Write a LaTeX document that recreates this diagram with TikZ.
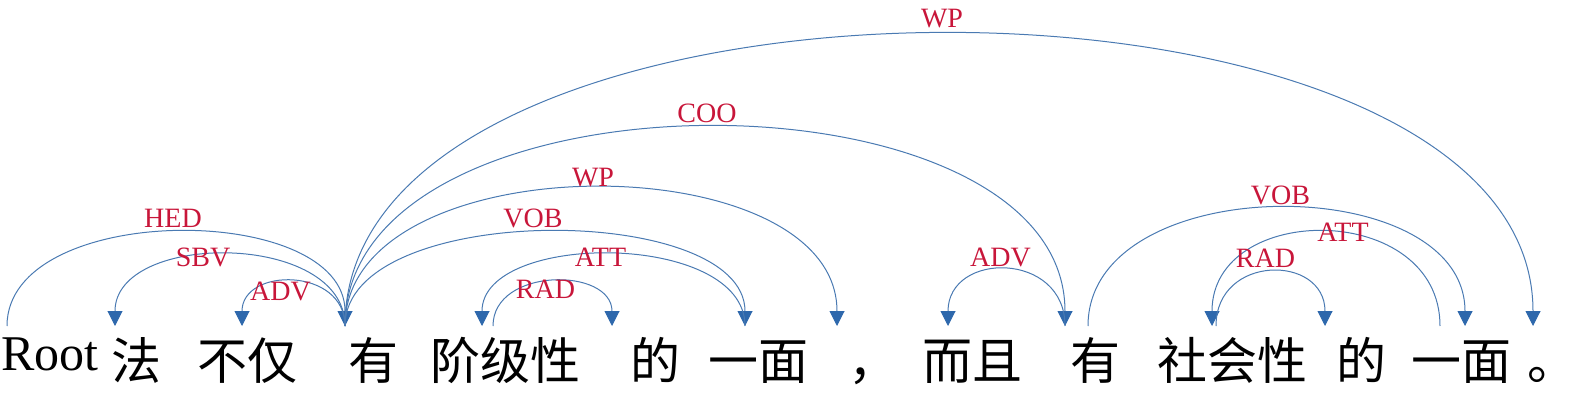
\documentclass[tikz,border=0pt]{standalone}
\usepackage{fontspec}
\setmainfont{Liberation Serif}
\newfontfamily\cjk{Noto Sans CJK SC}
\usetikzlibrary{arrows.meta}
\definecolor{arcblue}{RGB}{74,122,178}
\definecolor{tipblue}{RGB}{46,104,172}
\definecolor{relred}{RGB}{200,22,58}
\newcommand{\tokfont}{\fontsize{50}{56}\selectfont}
\newcommand{\relfont}{\fontsize{28}{32}\selectfont}
\tikzset{
  depgraph/.style={x=1pt, y=1pt},
  % a word of the sentence, set on its baseline
  token/.style={font=\tokfont\cjk, inner sep=0pt, anchor=base},
  % a dependency arc, from the head down onto the dependent
  deparrow/.style={draw=arcblue, line width=1pt,
                   -{Triangle[length=15pt,width=15pt,color=tipblue]}},
  % the relation name that sits on its arc
  rel/.style={font=\relfont, text=relred, inner sep=0pt},
}
\newcommand{\tok}[4]{\node[token] (#1) at (#2,#3) {#4};}
\newcommand{\port}[2]{\coordinate (#1) at (#2,66);}
% head, dependent, control height, relation, label shift x, label shift y
\newcommand{\deparc}[6]{%
  \draw[deparrow] (#1) .. controls +(0,#3) and +(0,#3) ..
    node[rel, xshift=#5pt, yshift=#6pt] (l-#2) {#4} (#2);%
}

\begin{document}
\begin{tikzpicture}[depgraph]
  \useasboundingbox (0,0) rectangle (1577,392);
  % ---------------------------------------------------------------------------
  % the sentence
  % ---------------------------------------------------------------------------
  \node[token, font=\tokfont] (root) at (50,22) {Root};
  \tok{fa}{136}{12.5}{法}
  \tok{bujin}{247.5}{12.5}{不仅}
  \tok{you1}{373.5}{12.5}{有}
  \tok{jieji}{505}{12.5}{阶级性}
  \tok{de1}{655}{12.5}{的}
  \tok{yimian1}{758.5}{12.5}{一面}
  \node[token, anchor=base west] (dou) at (848,12.5) {，};
  \tok{erqie}{972.5}{12.5}{而且}
  \tok{you2}{1095}{12.5}{有}
  \tok{shehui}{1232}{12.5}{社会性}
  \tok{de2}{1361.5}{12.5}{的}
  \tok{yimian2}{1461.5}{12.5}{一面}
  \node[token, anchor=base west] (ju) at (1527,12.5) {。};

  % where the arcs meet the words
  \port{p-root}{7}
  \port{p-fa}{115}
  \port{p-bujin}{242}
  \port{p-you1}{345}
  \port{p-jieji}{482}
  \port{q-jieji}{493}
  \port{p-de1}{612}
  \port{p-yimian1}{745}
  \port{p-dou}{837}
  \port{p-erqie}{948}
  \port{p-you2}{1065}
  \port{q-you2}{1088}
  \port{p-shehui}{1212}
  \port{q-shehui}{1216}
  \port{p-de2}{1325}
  \port{q-yimian2}{1440}
  \port{p-yimian2}{1465}
  \port{p-ju}{1533}

  % ---------------------------------------------------------------------------
  % the arcs
  % ---------------------------------------------------------------------------
  \deparc{p-root}{p-you1}{125}{HED}{-3}{14}
  \deparc{p-you1}{p-fa}{95}{SBV}{-27}{-3}
  \deparc{p-you1}{p-bujin}{59}{ADV}{-13}{-10}
  \deparc{p-you1}{p-yimian1}{125}{VOB}{-12}{14}
  \deparc{p-you1}{p-dou}{184}{WP}{2}{10}
  \deparc{p-you1}{p-you2}{265}{COO}{2}{14}
  \deparc{p-you1}{p-ju}{389}{WP}{3}{16}
  \deparc{p-yimian1}{p-jieji}{95}{ATT}{-13}{-3}
  \deparc{q-jieji}{p-de1}{59}{RAD}{-7}{-8}
  \deparc{p-you2}{p-erqie}{75}{ADV}{-6}{12}
  \deparc{q-you2}{p-yimian2}{157}{VOB}{4}{13}
  \deparc{q-yimian2}{p-shehui}{125}{ATT}{17}{0}
  \deparc{q-shehui}{p-de2}{72}{RAD}{-5}{14}
\end{tikzpicture}
\end{document}
